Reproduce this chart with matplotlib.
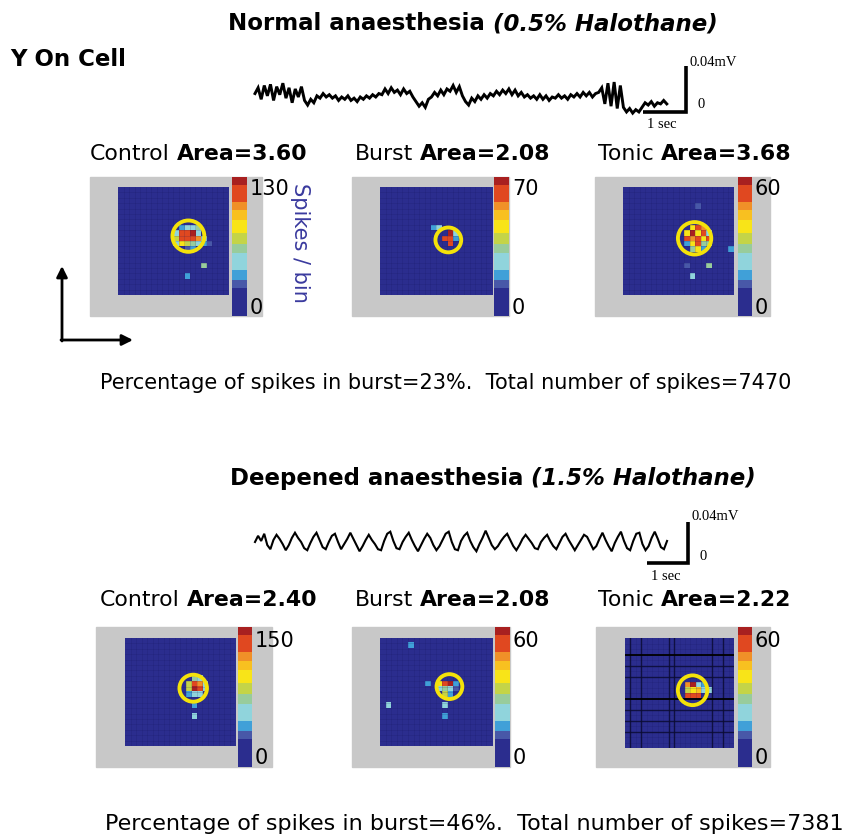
import numpy as np
import matplotlib
matplotlib.use('Agg')
import matplotlib.pyplot as plt
from matplotlib.colors import ListedColormap
from matplotlib.patches import Rectangle, Circle

# ---------------- data ----------------
GRID = 20
BG_LEVEL = 2

# hot cells: (row, col, spikes/bin)
ctrl1_vmax = 130
ctrl1_cells = [(7, 11, 39), (7, 12, 45), (7, 13, 51), (7, 14, 62),
               (8, 10, 51), (8, 11, 114), (8, 12, 116), (8, 13, 126), (8, 14, 51),
               (9, 10, 73), (9, 11, 114), (9, 12, 120), (9, 13, 112), (9, 14, 103), (9, 15, 51),
               (10, 10, 51), (10, 11, 85), (10, 12, 73), (10, 13, 62), (10, 14, 51), (10, 15, 39), (10, 16, 30),
               (11, 12, 30), (11, 13, 39),
               (14, 15, 62), (16, 12, 39)]
ctrl1_circle = (12.8, 9.1, 2.9)

burst1_vmax = 70
burst1_cells = [(7, 9, 21), (7, 10, 27),
                (8, 12, 68), (8, 13, 27),
                (9, 11, 62), (9, 12, 64), (9, 13, 21),
                (10, 11, 8), (10, 12, 58)]
burst1_circle = (12.2, 9.8, 2.3)

tonic1_vmax = 60
tonic1_cells = [(7, 12, 39), (7, 13, 53), (7, 14, 47),
                (8, 11, 39), (8, 12, 58), (8, 13, 39), (8, 14, 53), (8, 15, 23),
                (9, 11, 53), (9, 12, 47), (9, 13, 56), (9, 14, 39), (9, 15, 50),
                (10, 11, 18), (10, 12, 39), (10, 13, 53), (10, 14, 29), (10, 15, 29),
                (11, 12, 29), (11, 13, 39), (11, 14, 18),
                (14, 15, 29), (16, 12, 20), (14, 11, 14), (3, 13, 14), (11, 19, 16)]
tonic1_circle = (12.9, 9.5, 3.0)

ctrl2_vmax = 150
ctrl2_cells = [(7, 12, 72), (7, 13, 59),
               (8, 11, 84), (8, 12, 132), (8, 13, 118), (8, 14, 59),
               (9, 11, 84), (9, 12, 146), (9, 13, 132), (9, 14, 59),
               (10, 11, 45), (10, 12, 59), (10, 13, 59),
               (12, 12, 45), (14, 12, 59)]
ctrl2_circle = (12.4, 9.3, 2.5)

burst2_vmax = 60
burst2_cells = [(8, 10, 39), (8, 11, 53), (8, 12, 58), (8, 13, 18),
                (9, 10, 23), (9, 11, 29), (9, 12, 23), (9, 13, 14),
                (10, 11, 34), (10, 12, 18),
                (1, 5, 16), (12, 1, 20), (8, 8, 16), (12, 11, 23), (14, 11, 16)]
burst2_circle = (12.4, 9.0, 2.3)

tonic2_vmax = 60
tonic2_cells = [(8, 11, 47), (8, 12, 58), (8, 13, 23), (8, 14, 18),
                (9, 11, 34), (9, 12, 39), (9, 13, 43), (9, 14, 23),
                (10, 11, 53), (10, 12, 56), (10, 13, 53), (9, 15, 20)]
tonic2_circle = (12.4, 9.5, 2.7)
tonic2_dark_rows = [3, 11]
tonic2_mid_rows = [5, 7, 13, 15, 17]
tonic2_mid_cols = [1, 3, 8, 9, 16, 18]

# field-potential traces (microvolts, one sample per interval)
trace1_dt = 0.072
trace1_uV = [3, 8, -2, 10, 1, 11, -3, 9, 2, 12, -1, 8, -5, 7, 0, 9,
             -3, -7, -2, -5, 1, -1, 3, 0, 2,
             -1, 1, -3, 0, -2, 1, -3, -1, -4, 0, -2, 1, -1, 2, 0, 3,
             2, 7, 3, 8, 4, 6, 2, 7, 3, 5, 0,
             -4, -8, -5, -9, -2, 0, 4, 1, 6, 2, 7,
             5, 10, 4, 9, 1, -4, -7,
             -1, -4, 1, -2, 2, -1, 3,
             1, 5, 2, 6, 3, 7, 2, 6, 1, 4, 0,
             2, -1, 1, -2, 2, -2, 1, -3, 0, -1, 2,
             -1, 1, -2, 2, 0, 3, 0, 4, 1, 4, 0, 3, 4,
             8, -6, 12, -8, 13, -10, 10,
             -9, -13, -10, -14, -11, -13, -9,
             -5, -7, -4, -8, -5, -6, -3, -6]

trace2_dt = 0.075
trace2_uV = [0, 6, 1, 8, -3, -7, 2, 7, 3, -2, -8, -3, 4, 9, 4, 0, -6, -8, -1, 5,
             9, 2, -5, -7, 0, 6, 8, 0, -7, -2, 3, 9, 3, -3, -9, -4, 2, 7, 2, -2,
             -7, -8, 1, 8, 10, 1, -6, -7, 0, 5, 9, 2, -4, -9, -3, 3, 8, 4, -3, -8,
             -4, 2, 8, 10, 0, -7, -8, 1, 6, 9, 1, -5, -9, -2, 4, 11, 4, -3, -7, -4,
             1, 5, 8, 2, -4, -8, -3, 3, 7, 3, -1, -6, -7, 0, 4, 7, 1, -4, -7, -1,
             5, 8, 2, -3, -8, -3, 2, 7, 5, -1, -7, -4, 3, 9, 2, -4, -9, -1, 5, 10,
             1, -6, -8, 1, 8, 9, -2, -8, -4, 4, 10, 3, -5, -7, 1]

# ---------------- figure ----------------
W, H = 847, 836
fig = plt.figure(figsize=(W / 100, H / 100), dpi=100)
fig.patch.set_facecolor('white')
plt.rcParams['font.family'] = ['DejaVu Sans']


def px_axes(x0, y0, x1, y1, z=1):
    return fig.add_axes([x0 / W, 1 - y1 / H, (x1 - x0) / W, (y1 - y0) / H], zorder=z)


bg = px_axes(0, 0, W, H, 0)
bg.set_xlim(0, W)
bg.set_ylim(H, 0)
bg.axis('off')

# discrete jet-like colormap
stops = [(0.20, '#2b2d8e'), (0.26, '#4858a8'), (0.33, '#40a0d8'), (0.45, '#90d4dc'),
         (0.52, '#98cc9c'), (0.60, '#c4d448'), (0.69, '#f8e418'), (0.76, '#f8c020'),
         (0.82, '#f09028'), (0.94, '#e04820'), (1.00, '#a82020')]
cols = []
prev = 0
for s, c in stops:
    cols += [c] * (int(round(s * 100)) - int(round(prev * 100)))
    prev = s
cmap = ListedColormap(cols)

GRAY = '#c8c8c8'


def heat(gray_box, box, cbar_box, vmax, cells, circle, label_x, lab_top_y, lab_bot_y,
         dark_rows=(), mid_rows=(), mid_cols=()):
    gx0, gy0, gx1, gy1 = gray_box
    bg.add_patch(Rectangle((gx0, gy0), gx1 - gx0, gy1 - gy0, color=GRAY, zorder=0))
    ax = px_axes(*box, z=2)
    M = np.full((GRID, GRID), float(BG_LEVEL))
    for r, c, v in cells:
        M[r, c] = v
    im = ax.imshow(M, cmap=cmap, vmin=0, vmax=vmax, extent=(0, GRID, GRID, 0),
                   aspect='auto', interpolation='nearest')
    for k in range(1, GRID):
        ax.axhline(k, color='#14145a', lw=0.5, alpha=0.22)
        ax.axvline(k, color='#14145a', lw=0.5, alpha=0.22)
    for k in mid_rows:
        ax.axhline(k, color='#0a0a30', lw=1.0, alpha=0.8)
    for k in mid_cols:
        ax.axvline(k, color='#0a0a30', lw=1.0, alpha=0.8)
    for k in dark_rows:
        ax.axhline(k, color='black', lw=1.3)
    cx, cy, rr = circle
    ax.add_patch(Circle((cx, cy), rr, fill=False, ec='#f4e20a', lw=2.8, clip_on=False, zorder=5))
    ax.set_xlim(0, GRID)
    ax.set_ylim(GRID, 0)
    ax.axis('off')
    cax = px_axes(*cbar_box, z=2)
    cb = fig.colorbar(im, cax=cax)
    cb.set_ticks([])
    cb.outline.set_visible(False)
    bg.text(label_x, lab_top_y, str(vmax), fontsize=15, ha='left', va='center')
    bg.text(label_x, lab_bot_y, '0', fontsize=15, ha='left', va='center')


heat((90, 177, 262, 316), (118, 187, 228, 295), (232, 177, 247, 316), ctrl1_vmax, ctrl1_cells,
     ctrl1_circle, 250, 189, 308)
heat((352, 177, 509, 316), (380, 187, 492, 295), (494, 177, 509, 316), burst1_vmax, burst1_cells,
     burst1_circle, 512, 189, 308)
heat((595, 177, 770, 316), (623, 187, 734, 295), (738, 177, 752, 316), tonic1_vmax, tonic1_cells,
     tonic1_circle, 755, 189, 308)
heat((96, 627, 272, 767), (125, 638, 235, 746), (238, 627, 252, 767), ctrl2_vmax, ctrl2_cells,
     ctrl2_circle, 255, 641, 758)
heat((352, 627, 510, 767), (380, 638, 492, 746), (495, 627, 510, 767), burst2_vmax, burst2_cells,
     burst2_circle, 513, 641, 758)
heat((596, 627, 770, 767), (625, 638, 734, 748), (738, 627, 752, 767), tonic2_vmax, tonic2_cells,
     tonic2_circle, 755, 641, 758, dark_rows=tonic2_dark_rows, mid_rows=tonic2_mid_rows,
     mid_cols=tonic2_mid_cols)

renderer = fig.canvas.get_renderer()


def rich(x, y, parts, size, gap):
    for txt, kw in parts:
        t = bg.text(x, y, txt, fontsize=size, ha='left', va='center', **kw)
        bb = t.get_window_extent(renderer=renderer)
        x += bb.width + gap


# titles
rich(228, 24, [('Normal anaesthesia', dict(fontweight='bold')),
               ('(0.5% Halothane)', dict(fontweight='bold', style='italic'))], 16.5, 8)
rich(230, 478, [('Deepened anaesthesia', dict(fontweight='bold')),
                ('(1.5% Halothane)', dict(fontweight='bold', style='italic'))], 16.5, 8)
bg.text(10, 60, 'Y On Cell', fontsize=16.5, fontweight='bold', ha='left', va='center')

# panel titles
for x, y, name, val in [(90, 154, 'Control', 'Area=3.60'), (355, 154, 'Burst', 'Area=2.08'),
                        (598, 154, 'Tonic', 'Area=3.68'), (100, 600, 'Control', 'Area=2.40'),
                        (355, 600, 'Burst', 'Area=2.08'), (598, 600, 'Tonic', 'Area=2.22')]:
    rich(x, y, [(name, {}), (val, dict(fontweight='bold'))], 15.8, 7)

bg.text(300, 243, 'Spikes / bin', fontsize=15, color='#3a3a9e', rotation=270,
        ha='center', va='center')

bg.text(100, 383, 'Percentage of spikes in burst=23%.  Total number of spikes=7470',
        fontsize=15, ha='left', va='center')
bg.text(105, 824, 'Percentage of spikes in burst=46%.  Total number of spikes=7381',
        fontsize=16, ha='left', va='center')

# orientation arrows
bg.annotate('', xy=(62, 266), xytext=(62, 341),
            arrowprops=dict(arrowstyle='-|>', lw=2, color='black', mutation_scale=16,
                            shrinkA=0, shrinkB=0))
bg.annotate('', xy=(133, 340), xytext=(61, 340),
            arrowprops=dict(arrowstyle='-|>', lw=2, color='black', mutation_scale=16,
                            shrinkA=0, shrinkB=0))


def trace(values, dt, box, x_start, y_center, px_per_s, px_per_uV, sb_x, sb_y, labels, lw):
    x0, y0, x1, y1 = box
    ax = px_axes(*box, z=2)
    t = np.arange(len(values)) * dt
    ax.plot(t, values, color='black', lw=lw, solid_joinstyle='miter')
    ax.set_xlim((x0 - x_start) / px_per_s, (x1 - x_start) / px_per_s)
    ax.set_ylim((y_center - y1) / px_per_uV, (y_center - y0) / px_per_uV)
    ax.axis('off')
    # scale bars: 1 s and 40 uV
    tb = (sb_x - x_start) / px_per_s
    vb = (y_center - sb_y) / px_per_uV
    ax.plot([tb - 1, tb, tb], [vb, vb, vb + 40], color='black', lw=2.6,
            solid_joinstyle='miter', solid_capstyle='butt')
    (mvx, mvy), (zx, zy), (sx, sy) = labels
    bg.text(mvx, mvy, '0.04mV', fontsize=10.5, family='Liberation Serif', ha='left', va='center')
    bg.text(zx, zy, '0', fontsize=10.5, family='Liberation Serif', ha='left', va='center')
    bg.text(sx, sy, '1 sec', fontsize=10.5, family='Liberation Serif', ha='center', va='center')


trace(trace1_uV, trace1_dt, (245, 50, 720, 135), 255, 97, 43, 1.15, 686, 112,
      ((689, 63), (697, 104), (662, 125)), 2.1)
trace(trace2_uV, trace2_dt, (245, 500, 720, 590), 255, 542, 41, 1.03, 688, 563,
      ((691, 516), (700, 557), (666, 577)), 1.5)

fig.savefig('out.png', dpi=100, facecolor='white')
